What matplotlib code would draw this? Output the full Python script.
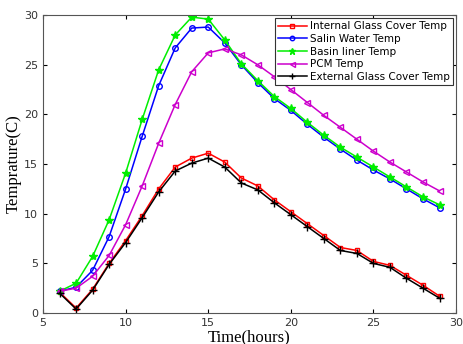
import numpy as np
import matplotlib
matplotlib.use("Agg")
import matplotlib.pyplot as plt

# Time in hours
hours = list(range(6, 30))

internal_glass = [2.1, 0.5, 2.4, 5.0, 7.3, 9.8, 12.5, 14.7, 15.6, 16.1, 15.2, 13.6,
                  12.8, 11.4, 10.2, 9.0, 7.8, 6.6, 6.3, 5.2, 4.8, 3.8, 2.8, 1.7]
salin_water = [2.2, 2.6, 4.3, 7.7, 12.5, 17.8, 22.9, 26.7, 28.7, 28.8, 27.2, 25.0,
               23.2, 21.6, 20.4, 19.0, 17.7, 16.5, 15.4, 14.4, 13.5, 12.5, 11.5, 10.6]
basin_liner = [2.2, 3.0, 5.7, 9.4, 14.1, 19.5, 24.5, 28.0, 29.8, 29.6, 27.5, 25.1,
               23.4, 21.8, 20.6, 19.2, 17.9, 16.7, 15.7, 14.7, 13.7, 12.7, 11.7, 10.9]
pcm = [2.2, 2.5, 3.7, 5.8, 8.9, 12.8, 17.1, 21.0, 24.3, 26.2, 26.6, 26.0,
       25.0, 23.8, 22.5, 21.2, 19.9, 18.7, 17.5, 16.3, 15.2, 14.2, 13.2, 12.3]
external_glass = [2.0, 0.4, 2.3, 4.9, 7.1, 9.6, 12.2, 14.3, 15.1, 15.6, 14.7, 13.1,
                  12.4, 11.1, 9.9, 8.7, 7.5, 6.3, 6.0, 5.0, 4.6, 3.5, 2.5, 1.5]

fig = plt.figure(figsize=(4.63, 3.44), dpi=100)
ax = fig.add_axes([0.093, 0.09, 0.892, 0.866])

ax.plot(hours, internal_glass, color="red", marker="s", ms=3.5, mfc="none", lw=1.1,
        label="Internal Glass Cover Temp")
ax.plot(hours, salin_water, color="blue", marker="o", ms=4, mfc="none", lw=1.1,
        label="Salin Water Temp")
ax.plot(hours, basin_liner, color="#00ee00", marker="*", ms=6, lw=1.1,
        label="Basin liner Temp")
ax.plot(hours, pcm, color="#cc00cc", marker="<", ms=4.5, mfc="none", lw=1.1,
        label="PCM Temp")
ax.plot(hours, external_glass, color="black", marker="+", ms=6, lw=1.1,
        label="External Glass Cover Temp")

ax.set_xlim(5, 30)
ax.set_ylim(0, 30)
ax.set_xticks([5, 10, 15, 20, 25, 30])
ax.set_yticks([0, 5, 10, 15, 20, 25, 30])
ax.tick_params(direction="in", labelsize=8, length=3, top=True, right=True,
               labeltop=False, labelright=False, labelcolor="#333333")
for s in ax.spines.values():
    s.set_color("#555555")

ax.set_xlabel("Time(hours)", family="Liberation Serif", fontsize=12, labelpad=1)
ax.set_ylabel("Temprature(C)", family="Liberation Serif", fontsize=12, labelpad=2)

leg = ax.legend(loc="upper right", fontsize=7.5, fancybox=False, framealpha=1,
                edgecolor="#333333", handlelength=2.8, borderpad=0.3,
                labelspacing=0.25, handletextpad=0.3, borderaxespad=0.3,
                markerscale=0.8)
leg.get_frame().set_linewidth(0.8)

fig.savefig("out.png", dpi=100)
